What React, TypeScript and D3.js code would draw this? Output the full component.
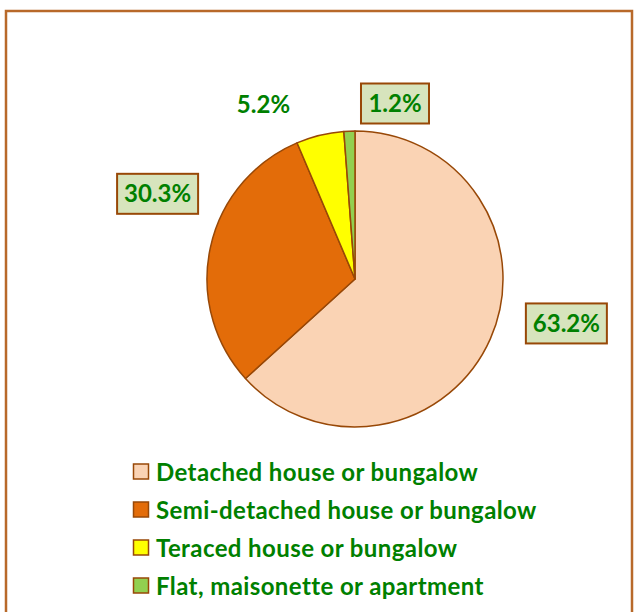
import React from 'react';
import * as d3 from 'd3';

const categories = [
  'Detached house or bungalow',
  'Semi-detached house or bungalow',
  'Teraced house or bungalow',
  'Flat, maisonette or apartment',
];
const shares = [63.2, 30.3, 5.2, 1.2];
const sliceColors = ['#FAD3B4', '#E36C09', '#FFFF00', '#92D050'];
const boxed = [true, true, false, true];

// label placement (Excel "best fit" look): radius and angle shift in degrees
const labelRadius = [216, 215, 197, 180];
const labelShift = [-12, 11, -14, 15];

const W = 635;
const H = 612;
const cx = 355;
const cy = 279;
const R = 148;
const brown = '#984807';
const green = '#008000';
const font = 'Lato, "Open Sans", sans-serif';

export default function App() {
  const pie = d3.pie<number>().sort(null).value(d => d);
  const arcs = pie(shares);
  const arc = d3.arc<d3.PieArcDatum<number>>().innerRadius(0).outerRadius(R);

  const legendY = d3.scalePoint<string>().domain(categories).range([472, 586]);

  return (
    <svg width={W} height={H} style={{ position: 'absolute', left: 0, top: 0 }}
      fontFamily={font}>
      <rect x={6} y={11} width={626} height={610} fill="#fff" stroke="#B8692A" strokeWidth={2.5} />
      <g transform={`translate(${cx},${cy})`}>
        {arcs.map((a, i) => (
          <path key={i} d={arc(a) || ''} fill={sliceColors[i]} stroke={brown} strokeWidth={1.5}
            strokeLinejoin="round" />
        ))}
        {arcs.map((a, i) => {
          const ang = (a.startAngle + a.endAngle) / 2 + (labelShift[i] * Math.PI) / 180;
          const x = labelRadius[i] * Math.sin(ang);
          const y = -labelRadius[i] * Math.cos(ang);
          const txt = `${shares[i].toFixed(1)}%`;
          const bw = txt.length * 13 + 16;
          return (
            <g key={i} transform={`translate(${x},${y})`}>
              {boxed[i] && (
                <rect x={-bw / 2} y={-20} width={bw} height={40} fill="#D7E4BD" stroke={brown}
                  strokeWidth={2} />
              )}
              <text textAnchor="middle" dy="0.36em" fontSize={24} fontWeight={700} fill={green}>
                {txt}
              </text>
            </g>
          );
        })}
      </g>
      <g>
        {categories.map((c, i) => (
          <g key={c} transform={`translate(133,${legendY(c)})`}>
            <rect x={0.5} y={-8} width={15} height={15} fill={sliceColors[i]} stroke={brown}
              strokeWidth={1.5} />
            <text x={23} dy="0.36em" fontSize={24} fontWeight={700} letterSpacing={0.4}
              fill={green}>{c}</text>
          </g>
        ))}
      </g>
    </svg>
  );
}
